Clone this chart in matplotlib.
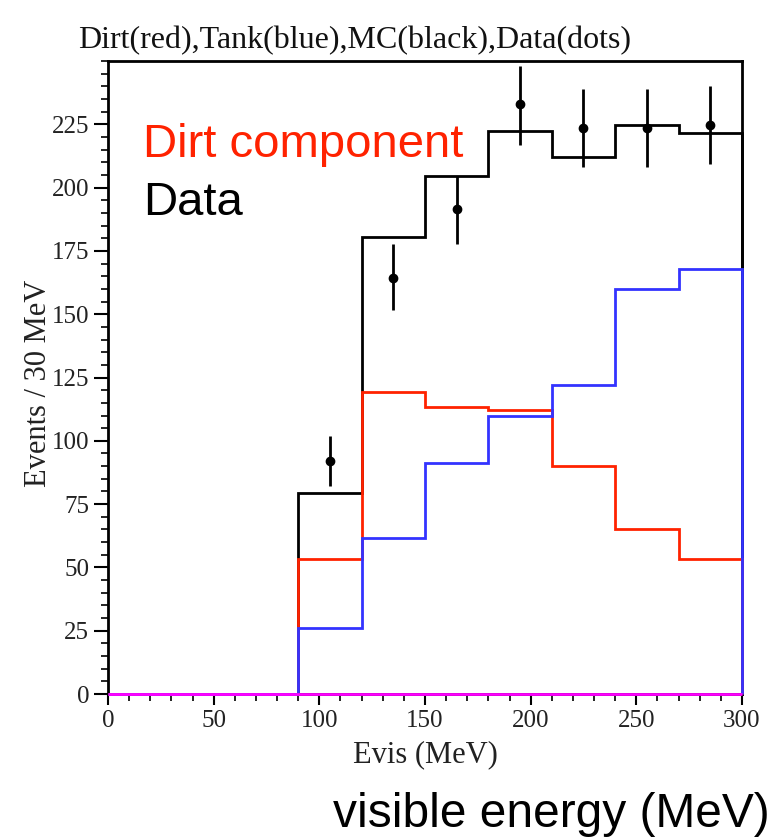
import numpy as np
import matplotlib.pyplot as plt
from matplotlib.ticker import MultipleLocator

# 30 MeV bins from 0 to 300
edges = np.arange(0, 301, 30)
mc = [0, 0, 0, 79.3, 180.3, 204.7, 222.2, 212.2, 224.8, 221.4]
dirt = [0, 0, 0, 53.2, 119.1, 113.5, 112.2, 90.2, 65.0, 53.2]
tank = [0, 0, 0, 26.2, 61.6, 91.1, 109.8, 122.0, 160.1, 167.9]

data_x = [105, 135, 165, 195, 225, 255, 285]
data_y = [92.1, 164.5, 191.5, 232.9, 223.6, 223.6, 224.7]
data_lo = [82.3, 151.7, 177.7, 216.8, 208.3, 208.3, 209.5]
data_hi = [101.9, 177.6, 204.7, 248.0, 238.9, 238.9, 240.1]

serif = 'Liberation Serif'
sans = 'Liberation Sans'

fig = plt.figure(figsize=(7.82, 8.38), dpi=100)
ax = fig.add_axes([0.1381, 0.1718, 0.8107, 0.7554])

ax.stairs(mc, edges, color='black', lw=2, zorder=3, clip_on=False)
ax.stairs(dirt, edges, color='#ff2200', lw=2, zorder=3.1, clip_on=False)
ax.stairs(tank, edges, color='#3333ff', lw=2, zorder=3.2, clip_on=False)
ax.stairs(np.zeros(len(mc)), edges, color='#ff00ff', lw=2, zorder=3.3, clip_on=False)

yerr = [np.array(data_y) - np.array(data_lo), np.array(data_hi) - np.array(data_y)]
ax.errorbar(data_x, data_y, yerr=yerr, fmt='o', color='black', ms=6, elinewidth=2,
            capsize=0, zorder=4)

ax.set_xlim(0, 300)
ax.set_ylim(0, 250)
ax.set_xticks([0, 50, 100, 150, 200, 250, 300])
ax.set_yticks([0, 25, 50, 75, 100, 125, 150, 175, 200, 225])
ax.xaxis.set_minor_locator(MultipleLocator(10))
ax.yaxis.set_minor_locator(MultipleLocator(5))
ax.tick_params(which='major', direction='out', length=10, width=1.5, labelsize=18)
ax.tick_params(which='minor', direction='out', length=5, width=1.2)
ax.tick_params(axis='x', which='major', length=8)
for lab in ax.get_xticklabels() + ax.get_yticklabels():
    lab.set_fontfamily(serif)
    lab.set_color('#222222')
for s in ax.spines.values():
    s.set_linewidth(2)

fig.text(425 / 782, 1 - 755 / 838, 'Evis (MeV)', fontfamily=serif, fontsize=22,
         color='#222222', ha='center', va='center')
fig.text(39 / 782, 1 - 383 / 838, 'Events / 30 MeV', fontfamily=serif, fontsize=22,
         color='#222222', ha='center', va='center', rotation=90)

fig.text(355 / 782, 1 - 41 / 838, 'Dirt(red),Tank(blue),MC(black),Data(dots)', fontfamily=serif,
         fontsize=23, ha='center', va='center', color='#111111')
fig.text(143 / 782, 1 - 157 / 838, 'Dirt component', fontfamily=sans, fontsize=34,
         color='#ff2200', ha='left', va='baseline')
fig.text(143 / 782, 1 - 215 / 838, 'Data', fontfamily=sans, fontsize=34,
         color='black', ha='left', va='baseline')
fig.text(770 / 782, 1 - 827 / 838, 'visible energy (MeV)', fontfamily=sans, fontsize=34.5,
         color='black', ha='right', va='baseline')

fig.savefig('out.png', dpi=100)
